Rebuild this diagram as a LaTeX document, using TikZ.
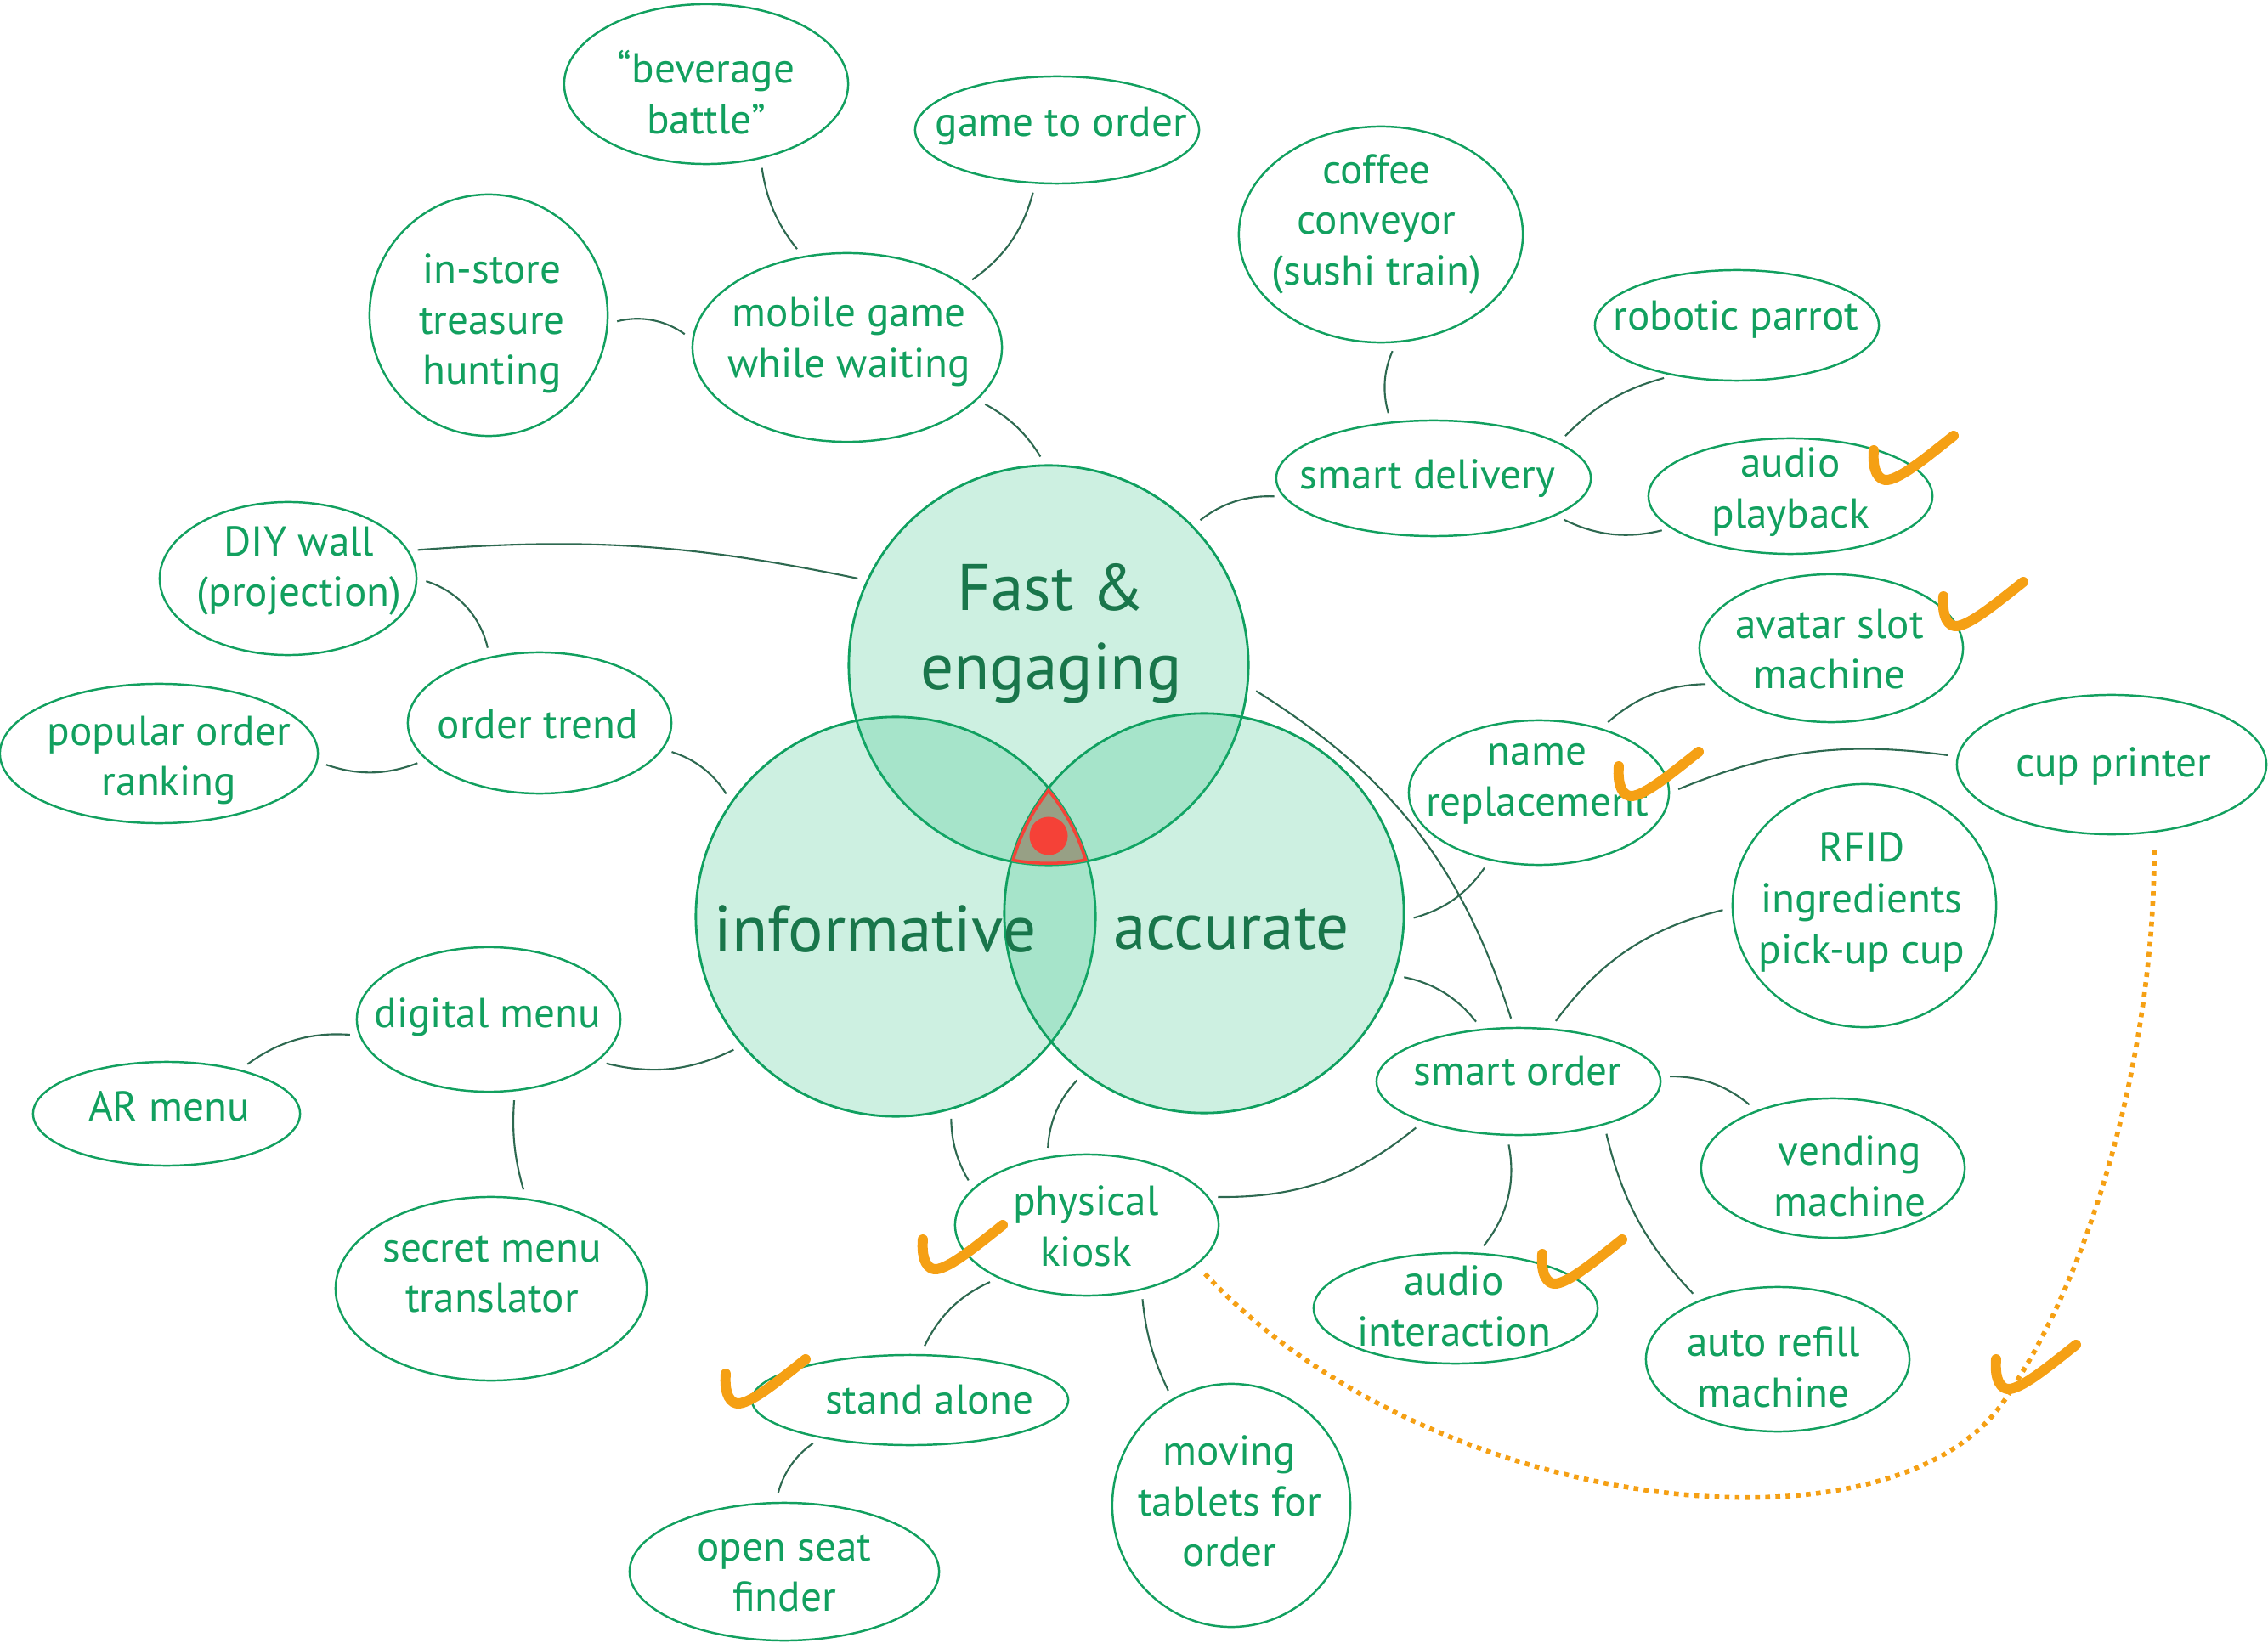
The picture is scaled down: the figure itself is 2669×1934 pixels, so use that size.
\documentclass[tikz,border=0pt]{standalone}
\usepackage{fontspec}
\setmainfont{PT Sans}
\usetikzlibrary{shapes.geometric}
\definecolor{ng}{RGB}{18,160,95}
\definecolor{lg}{RGB}{45,105,80}
\definecolor{bt}{RGB}{25,118,75}
\definecolor{vg}{RGB}{28,187,119}
\definecolor{vs}{RGB}{16,160,96}
\definecolor{orng}{RGB}{245,160,20}
\definecolor{trig}{RGB}{151,160,133}
\definecolor{rd}{RGB}{245,65,55}
\tikzset{
  bub/.style={ellipse, draw=ng, line width=0.7pt, inner sep=0pt},
  lbl/.style={text=ng, font=\fontsize{14}{17}\selectfont, align=center},
  big/.style={text=bt, font=\fontsize{22}{26.5}\selectfont, align=center},
  vc/.style={circle, minimum size=4.7cm, inner sep=0pt, fill=vg, fill opacity=0.22, draw=vs, line width=0.8pt},
  con/.style={draw=lg, line width=0.6pt, shorten <=3pt, shorten >=3pt},
  chk/.style={draw=orng, line width=3.4pt, line cap=round, line join=round},
  dots/.style={draw=orng, line width=1.6pt, dash pattern=on 1.6pt off 1.8pt},
  pics/tick/.style={code={\draw[chk] (0,0) .. controls (-2,25) and (6,36) .. (16,35) .. controls (32,33) and (60,10) .. (94,-17);}}
}
\begin{document}
\begin{tikzpicture}[x=0.01cm,y=-0.01cm]
\useasboundingbox (0,0) rectangle (2669,1934);
% Venn
\node[vc] (cF) at (1234,783) {};
\node[vc] (cI) at (1054,1079) {};
\node[vc] (cA) at (1417,1075) {};
\begin{scope}
\clip (cF.center) circle[radius=235];
\clip (cI.center) circle[radius=235];
\clip (cA.center) circle[radius=235];
\fill[trig] (1100,850) rectangle (1400,1050);
\draw[rd, line width=2pt] (cF.center) circle[radius=235] (cI.center) circle[radius=235] (cA.center) circle[radius=235];
\end{scope}
\node[circle, fill=rd, minimum size=0.45cm, inner sep=0pt] (dot) at (1234,984) {};
\node[big] (tF) at (1237,746) {Fast \&\\engaging};
\node[big] (tI) at (1030,1094) {informative};
\node[big] (tA) at (1449,1094) {accurate};
% bubbles
\node[bub, minimum width=3.34cm, minimum height=1.88cm] (bev) at (831,99) {};
\node[bub, minimum width=3.34cm, minimum height=1.26cm] (game) at (1244,153) {};
\node[bub, minimum width=2.80cm, minimum height=2.84cm] (instore) at (575,371) {};
\node[bub, minimum width=3.64cm, minimum height=2.22cm] (mobile) at (997,409) {};
\node[bub, minimum width=3.34cm, minimum height=2.54cm] (coffee) at (1625,276) {};
\node[bub, minimum width=3.34cm, minimum height=1.30cm] (parrot) at (2044,383) {};
\node[bub, minimum width=3.70cm, minimum height=1.36cm] (delivery) at (1687,563) {};
\node[bub, minimum width=3.34cm, minimum height=1.36cm] (playback) at (2107,584) {};
\node[bub, minimum width=3.02cm, minimum height=1.80cm] (diy) at (339,681) {};
\node[bub, minimum width=3.10cm, minimum height=1.66cm] (trend) at (635,851) {};
\node[bub, minimum width=3.74cm, minimum height=1.64cm] (popular) at (187,887) {};
\node[bub, minimum width=3.10cm, minimum height=1.74cm] (avatar) at (2155,763) {};
\node[bub, minimum width=3.06cm, minimum height=1.70cm] (name) at (1811,933) {};
\node[bub, minimum width=3.64cm, minimum height=1.64cm] (cup) at (2485,900) {};
\node[bub, minimum width=3.10cm, minimum height=2.86cm] (rfid) at (2194,1066) {};
\node[bub, minimum width=3.10cm, minimum height=1.70cm] (digital) at (575,1200) {};
\node[bub, minimum width=3.14cm, minimum height=1.22cm] (ar) at (196,1311) {};
\node[bub, minimum width=3.34cm, minimum height=1.26cm] (so) at (1787,1273) {};
\node[bub, minimum width=3.10cm, minimum height=1.64cm] (vending) at (2157,1375) {};
\node[bub, minimum width=3.66cm, minimum height=2.16cm] (secret) at (578,1517) {};
\node[bub, minimum width=3.10cm, minimum height=1.66cm] (kiosk) at (1279,1442) {};
\node[bub, minimum width=3.34cm, minimum height=1.30cm] (interaction) at (1713,1540) {};
\node[bub, minimum width=3.10cm, minimum height=1.70cm] (refill) at (2092,1600) {};
\node[bub, minimum width=3.72cm, minimum height=1.06cm] (standalone) at (1071,1648) {};
\node[bub, minimum width=2.80cm, minimum height=2.86cm] (tablets) at (1449,1772) {};
\node[bub, minimum width=3.64cm, minimum height=1.62cm] (seat) at (923,1850) {};
% labels
\node[lbl] (lbev) at (831,109) {“beverage\\battle”};
\node[lbl] (lgame) at (1249,148) {game to order};
\node[lbl] (linstore) at (579,381) {in-store\\treasure\\hunting};
\node[lbl] (lmobile) at (999,402) {mobile game\\while waiting};
\node[lbl] (lcoffee) at (1620,264) {coffee\\conveyor\\(sushi train)};
\node[lbl] (lparrot) at (2043,376) {robotic parrot};
\node[lbl] (ldelivery) at (1680,563) {smart delivery};
\node[lbl] (lplayback) at (2107,579) {audio\\playback};
\node[lbl] (ldiy) at (352,672) {DIY wall\\(projection)};
\node[lbl] (ltrend) at (633,853) {order trend};
\node[lbl] (lpopular) at (199,895) {popular order\\ranking};
\node[lbl] (lavatar) at (2153,764) {avatar slot\\machine};
\node[lbl] (lname) at (1809,923) {name\\replacement};
\node[lbl] (lcup) at (2487,902) {cup printer};
\node[lbl] (lrfid) at (2191,1062) {RFID\\ingredients\\pick-up cup};
\node[lbl] (ldigital) at (574,1197) {digital menu};
\node[lbl] (lar) at (199,1302) {AR menu};
\node[lbl] (lso) at (1786,1261) {smart order};
\node[lbl] (lvending) at (2177,1384) {vending\\machine};
\node[lbl] (lsecret) at (579,1500) {secret menu\\translator};
\node[lbl] (lkiosk) at (1278,1443) {physical\\kiosk};
\node[lbl] (linteraction) at (1711,1537) {audio\\interaction};
\node[lbl] (lrefill) at (2087,1609) {auto refill\\machine};
\node[lbl] (lstandalone) at (1094,1648) {stand alone};
\node[lbl] (ltablets) at (1447,1767) {moving\\tablets for\\order};
\node[lbl] (lseat) at (923,1852) {open seat\\finder};
% connectors
\draw[con] (bev.-54) to[bend right=15] (mobile.116);
\draw[con] (game.248) to[bend left=20] (mobile.28);
\draw[con] (instore.-4) to[bend left=25] (mobile.177);
\draw[con] (mobile.-22) to[bend left=15] (cF.91);
\draw[con] (coffee.-82) to[bend right=20] (delivery.127);
\draw[con] (parrot.218) to[bend right=15] (delivery.16);
\draw[con] (playback.195) to[bend left=20] (delivery.-17);
\draw[con] (delivery.187) to[bend right=20] (cF.44);
\draw[con] (diy.13) to[bend left=8] (cF.155);
\draw[con] (diy.0) to[bend left=30] (trend.127);
\draw[con] (popular.-3) to[bend right=20] (trend.198);
\draw[con] (trend.-12) to[bend left=20] (cI.145);
\draw[con] (cF.-6) to[bend left=20] (so.95);
\draw[con] (avatar.197) to[bend right=20] (name.46);
\draw[con] (name.0) to[bend left=15] (cup.177);
\draw[con] (name.234) to[bend left=20] (cA.-2);
\draw[con] (rfid.181) to[bend right=20] (so.59);
\draw[con] (cA.-18) to[bend left=20] (so.125);
\draw[con] (so.2) to[bend left=20] (vending.143);
\draw[con] (so.258) to[bend left=25] (interaction.68);
\draw[con] (so.-27) to[bend right=15] (refill.143);
\draw[con] (so.203) to[bend left=20] (kiosk.13);
\draw[con] (digital.-21) to[bend right=20] (cI.220);
\draw[con] (ar.31) to[bend left=20] (digital.187);
\draw[con] (secret.69) to[bend left=10] (digital.-70);
\draw[con] (kiosk.162) to[bend left=15] (cI.-74);
\draw[con] (kiosk.120) to[bend left=20] (cA.233);
\draw[con] (kiosk.211) to[bend right=20] (standalone.77);
\draw[con] (kiosk.-50) to[bend right=10] (tablets.119);
\draw[con] (standalone.203) to[bend right=20] (seat.97);
% dotted orange
\coordinate (meet) at (2366,1637);
\draw[dots, shorten <=4pt] (kiosk.-20) .. controls +(280,300) and +(-120,210) .. (meet);
\draw[dots, shorten <=6pt] (cup.-58) .. controls +(0,250) and +(100,-150) .. (meet);
% ticks
\pic at (2205,530) {tick};
\pic at (2287,702) {tick};
\pic at (1905,902) {tick};
\pic at (1086,1459) {tick};
\pic at (1815,1476) {tick};
\pic at (854,1617) {tick};
\pic at (2349,1600) {tick};
\end{tikzpicture}
\end{document}
